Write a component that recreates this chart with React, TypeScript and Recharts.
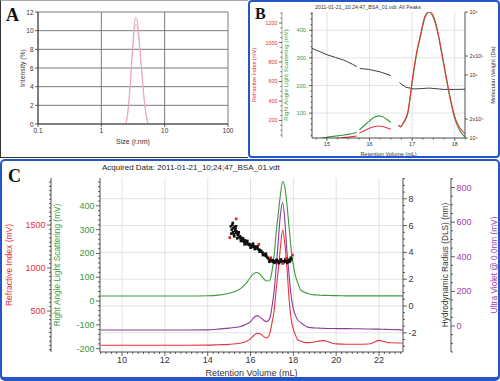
import React from "react";
import { ComposedChart, Line, Scatter, XAxis, YAxis, CartesianGrid } from "recharts";

const FONT = '"Liberation Sans", Arial, Helvetica, sans-serif';
const SERIF = '"Liberation Serif", "Times New Roman", serif';
const BLUE = "#2456c8";
const RED = "#e8333a";
const GREEN = "#3c9a3c";
const PURPLE = "#8d3a9c";

// ---- A: DLS intensity size distribution
const dlsSize = [2.3, 2.5, 2.7, 2.9, 3.1, 3.3, 3.5, 3.7, 3.9, 4.2, 4.5, 4.8, 5.1, 5.5, 5.8];
const dlsRun1 = [0, 0.4, 2.2, 5.0, 8.0, 10.4, 11.4, 11.0, 9.6, 7.0, 4.5, 2.4, 1.0, 0.1, 0];
const dlsRun2 = [0, 0.3, 2.0, 4.6, 7.4, 9.7, 10.7, 10.3, 9.0, 6.6, 4.2, 2.2, 0.9, 0.1, 0];
const aSizeTicks = [0.1, 1, 10, 100];
const aIntensityTicks = [0, 2, 4, 6, 8, 10, 12];

// ---- B: all peaks, RI / RALS / molecular weight
const bVol = [14.7, 14.9, 15.1, 15.3, 15.5, 15.7, 15.73, 15.76, 15.9, 16.0, 16.1, 16.2, 16.3, 16.4, 16.5, 16.6, 16.68, 16.72, 16.8, 16.9, 17.0, 17.1, 17.2, 17.3, 17.4, 17.5, 17.6, 17.7, 17.8, 17.9, 18.0, 18.1, 18.2, 18.24];
const bRals = [5, 10, 15, 19, 23, 30, null, 40, 58, 72, 84, 90, 88, 78, 66, null, 57, 50, 65, 100, 210, 310, 380, 445, 465, 445, 390, 310, 225, 145, 80, 42, 20, 15];
const bRi = [0, 5, 12, 20, 30, 40, null, 70, 100, 120, 135, 143, 138, 125, 112, null, 154, 135, 185, 290, 604, 887, 1086, 1270, 1315, 1270, 1115, 887, 646, 420, 240, 135, 80, 68];
const mwVol = [14.65, 14.8, 15.0, 15.2, 15.4, 15.6, 15.7, 15.73, 15.77, 16.0, 16.25, 16.5, 16.6, 16.7, 16.85, 17.05, 17.4, 17.75, 18.0, 18.24];
const mwDa = [265000, 240000, 210000, 190000, 172000, 148000, 136000, null, 127000, 122000, 112000, 98000, null, 76000, 64000, 60000, 62000, 59000, 59000, 59500];
const bVolTicks = [15, 16, 17, 18];
const bRiTicks = [200, 400, 600, 800, 1000, 1200];
const bRalsTicks = [100, 200, 300, 400];
const bMwTicks = [10000, 20000, 100000, 200000, 1000000];
const bMwLabels = ["10⁴", "2x10⁴", "10⁵", "2x10⁵", "10⁶"];

// ---- C: triple detection + DLS
const cVol = [9.0, 10, 11, 12, 13, 14, 14.5, 15.0, 15.5, 15.8, 16.0, 16.15, 16.3, 16.45, 16.6, 16.75, 16.9, 17.0, 17.1, 17.2, 17.3, 17.4, 17.5, 17.6, 17.7, 17.8, 17.9, 18.0, 18.1, 18.2, 18.35, 18.5, 18.7, 19.0, 19.2, 19.4, 19.6, 19.8, 20.0, 20.5, 21.0, 21.5, 21.8, 22.0, 22.2, 22.5, 23.1];
const cRals = [21, 21, 21, 21, 21, 22, 25, 33, 50, 75, 100, 116, 120, 112, 95, 84, 88, 125, 190, 290, 370, 450, 502, 480, 405, 310, 215, 150, 105, 78, 46, 38, 31, 26, 25, 24, 24, 23, 23, 22, 22, 22, 22, 22, 22, 22, 22];
const cUv = [-23, -23, -23, -23, -23, -22, -18, -12, -4, 10, 25, 48, 60, 50, 35, 25, 45, 110, 200, 340, 500, 650, 715, 610, 430, 295, 170, 100, 60, 35, 20, 5, -8, -11, -12, -13, -14, -14, -15, -15, -16, -17, -18, -18, -19, -20, -22];
const cRi = [101, 101, 101, 101, 101, 103, 108, 112, 125, 145, 175, 215, 240, 235, 205, 185, 240, 360, 500, 760, 990, 1250, 1445, 1290, 1010, 640, 400, 290, 220, 165, 150, 135, 132, 140, 150, 155, 145, 128, 117, 114, 114, 116, 140, 158, 148, 130, 128];
const rhBlack: [number, number][] = [
  [15.08, 5.95], [15.1, 5.4], [15.12, 5.7], [15.15, 6.05], [15.17, 6.2], [15.18, 5.5], [15.2, 5.8], [15.22, 5.35],
  [15.24, 5.2], [15.25, 5.9], [15.28, 5.6], [15.3, 5.75], [15.32, 5.95], [15.33, 5.45], [15.36, 5.55], [15.38, 5.05],
  [15.4, 5.3], [15.43, 5.4], [15.45, 5.5], [15.46, 5.15], [15.5, 5.2], [15.53, 5.05], [15.55, 4.85], [15.56, 5.1],
  [15.6, 4.95], [15.63, 4.9], [15.65, 5.05], [15.66, 4.85], [15.7, 4.8], [15.72, 4.6], [15.74, 4.9], [15.78, 4.7],
  [15.82, 4.75], [15.85, 4.85], [15.86, 4.6], [15.9, 4.65], [15.94, 4.55], [15.98, 4.6], [16.0, 4.35], [16.02, 4.5],
  [16.06, 4.45], [16.1, 4.55], [16.12, 4.65], [16.14, 4.4], [16.18, 4.45], [16.2, 4.25], [16.22, 4.35], [16.26, 4.4],
  [16.3, 4.3], [16.33, 4.45], [16.35, 4.25], [16.4, 4.2], [16.42, 4.05], [16.45, 4.15], [16.5, 4.1], [16.55, 4.0],
  [16.58, 3.8], [16.6, 3.9], [16.65, 3.85], [16.7, 3.75], [16.72, 3.9], [16.75, 3.7], [16.8, 3.6], [16.85, 3.5],
  [16.88, 3.3], [16.9, 3.45], [16.95, 3.4], [17.0, 3.35], [17.02, 3.42], [17.05, 3.3], [17.1, 3.35], [17.12, 3.22],
  [17.15, 3.3], [17.2, 3.38], [17.22, 3.45], [17.25, 3.3], [17.3, 3.35], [17.32, 3.2], [17.35, 3.28], [17.4, 3.36],
  [17.42, 3.48], [17.45, 3.3], [17.5, 3.34], [17.52, 3.22], [17.55, 3.28], [17.6, 3.35], [17.62, 3.47], [17.65, 3.3],
  [17.7, 3.4], [17.72, 3.22], [17.75, 3.32], [17.8, 3.45], [17.82, 3.3], [17.85, 3.38], [17.88, 3.6], [17.9, 3.5],
];
const rhRed: [number, number][] = [
  [15.03, 5.1], [15.33, 6.5], [16.39, 4.6], [16.94, 3.6], [17.5, 3.18], [17.66, 3.55], [17.96, 3.8],
];
const cVolMajor = [10, 12, 14, 16, 18, 20, 22];
const cRiMajor = [500, 1000, 1500];
const cRalsMajor = [-200, -100, 0, 100, 200, 300, 400];
const cRhMajor = [-2, 0, 2, 4, 6, 8];
const cUvMajor = [0, 200, 400, 600, 800];

const bVolDomain: [number, number] = [14.65, 18.24];
const bRalsDomain: [number, number] = [10, 466];
const cVolDomain: [number, number] = [8.97, 23.12];
const cRhDomain: [number, number] = [-3.43, 9.55];

// panel A plot box (chart size minus margins and axis bands)
const A_W = 248, A_H = 157, A_LEFT = 38, A_RIGHT = 20, A_TOP = 12, A_BOTTOM = 33;
const A_PLOT_W = A_W - A_LEFT - A_RIGHT;
const A_PLOT_H = A_H - A_TOP - A_BOTTOM;

const steps = (from: number, to: number, step: number) => {
  const out: number[] = [];
  for (let v = from; v <= to + 1e-9; v += step) out.push(Math.round(v * 1000) / 1000);
  return out;
};

// grid line pixel positions from the plot offset (linear axes)
const gridX = (vals: number[], dom: [number, number]) => ({ offset }: any) =>
  vals.map((v) => offset.left + ((v - dom[0]) / (dom[1] - dom[0])) * offset.width);
const gridY = (vals: number[], dom: [number, number]) => ({ offset }: any) =>
  vals.map((v) => offset.top + ((dom[1] - v) / (dom[1] - dom[0])) * offset.height);

// panel A is plotted in log10(size) so the size axis is a plain linear decade axis
const aLogTicks = aSizeTicks.map((t) => Math.log10(t));
const aData = dlsSize.map((s, i) => ({ v: Math.log10(s), run1: dlsRun1[i], run2: dlsRun2[i] }));
const bData = bVol.map((v, i) => ({ v, rals: bRals[i], ri: bRi[i] }));
const mwData = mwVol.map((v, i) => ({ v, mw: mwDa[i] }));
const cData = cVol.map((v, i) => ({ v, rals: cRals[i], uv: cUv[i], ri: cRi[i] }));
const rhBlackData = rhBlack.map(([v, r]) => ({ v, r }));
const rhRedData = rhRed.map(([v, r]) => ({ v, r }));

type Side = "left" | "right" | "bottom";

function makeTick(side: Side, majors: number[], color: string, size: number, fmt: (v: number) => string = (v) => String(v), big = 4) {
  return function TickMark(p: any) {
    const v = Number(p.payload?.value);
    const major = majors.some((m) => Math.abs(m - v) < 1e-6);
    const len = major ? big : big / 2;
    const { x, y } = p;
    if (side === "bottom") {
      return (
        <g>
          <line x1={x} x2={x} y1={y} y2={y + len} stroke="#222" strokeWidth={0.7} />
          {major ? (
            <text x={x} y={y + len + 1} textAnchor="middle" dominantBaseline="hanging" fontSize={size} fill={color} fontFamily={FONT}>
              {fmt(v)}
            </text>
          ) : null}
        </g>
      );
    }
    const dir = side === "left" ? -1 : 1;
    return (
      <g>
        <line x1={x} x2={x + dir * len} y1={y} y2={y} stroke="#222" strokeWidth={0.7} />
        {major ? (
          <text x={x + dir * (len + 1.5)} y={y} textAnchor={side === "left" ? "end" : "start"} dominantBaseline="central" fontSize={size} fill={color} fontFamily={FONT}>
            {fmt(v)}
          </text>
        ) : null}
      </g>
    );
  };
}

function AxisTitle(props: any) {
  const { viewBox, value, color = "#222", size = 9, dx = 0, dy = 0, vertical = true } = props;
  if (!viewBox) return null;
  if (vertical) {
    const x = viewBox.x + dx;
    const y = viewBox.y + viewBox.height / 2;
    return (
      <text x={x} y={y} transform={`rotate(-90 ${x} ${y})`} textAnchor="middle" dominantBaseline="central" fontSize={size} fill={color} fontFamily={FONT}>
        {value}
      </text>
    );
  }
  const x = viewBox.x + viewBox.width / 2;
  const y = viewBox.y + dy;
  return (
    <text x={x} y={y} textAnchor="middle" dominantBaseline="central" fontSize={size} fill={color} fontFamily={FONT}>
      {value}
    </text>
  );
}

const Square = (p: any) => <rect x={p.cx - 1.3} y={p.cy - 1.3} width={2.6} height={2.6} fill={p.fill} />;

const axisLine = { stroke: "#222", strokeWidth: 0.8 };

// backdrop grid for panel A, laid out from the same domain as its axes
function GridA() {
  const xs = aLogTicks.map((t) => A_LEFT + ((t + 1) / 3) * A_PLOT_W);
  const ys = aIntensityTicks.map((t) => A_TOP + ((12 - t) / 12) * A_PLOT_H);
  return (
    <svg width={A_W} height={A_H} style={{ position: "absolute", left: 0, top: 0 }}>
      {xs.map((x, i) => (
        <line key={"x" + i} x1={x} x2={x} y1={A_TOP} y2={A_TOP + A_PLOT_H} stroke="#7a7a7a" strokeWidth={1} />
      ))}
      {ys.map((y, i) => (
        <line key={"y" + i} x1={A_LEFT} x2={A_LEFT + A_PLOT_W} y1={y} y2={y} stroke="#7a7a7a" strokeWidth={1} />
      ))}
    </svg>
  );
}

function PanelA() {
  return (
    <ComposedChart width={A_W} height={A_H} margin={{ top: A_TOP, right: A_RIGHT, bottom: 0, left: 0 }}>
      <XAxis xAxisId="size" dataKey="v" type="number" domain={[-1, 2]} allowDataOverflow ticks={aLogTicks} interval={0}
        height={A_BOTTOM} axisLine={axisLine} tickLine={false} tickSize={0} tickMargin={0}
        tick={makeTick("bottom", aLogTicks, "#333", 6.5, (v) => String(aSizeTicks[aLogTicks.indexOf(v)] ?? ""), 3)}
        label={<AxisTitle value="Size (r.nm)" size={7} vertical={false} dy={17} color="#333" />} />
      <YAxis yAxisId="int" orientation="left" domain={[0, 12]} allowDataOverflow ticks={aIntensityTicks} interval={0} width={A_LEFT}
        axisLine={axisLine} tickLine={false} tickSize={0} tickMargin={0}
        tick={makeTick("left", aIntensityTicks, "#333", 6.5, (v) => String(v), 3)}
        label={<AxisTitle value="Intensity (%)" size={6.8} dx={22} color="#333" />} />
      <Line data={aData} xAxisId="size" yAxisId="int" dataKey="run2" type="monotone" stroke="#e8c9d2" strokeWidth={1} dot={false} isAnimationActive={false} />
      <Line data={aData} xAxisId="size" yAxisId="int" dataKey="run1" type="monotone" stroke="#f09fb3" strokeWidth={1} dot={false} isAnimationActive={false} />
    </ComposedChart>
  );
}

function PanelB() {
  return (
    <ComposedChart width={251} height={157} margin={{ top: 12, right: 0, bottom: 0, left: 0 }}>
      <CartesianGrid yAxisId="rals" stroke="#dcdcdc" strokeWidth={0.8}
        verticalCoordinatesGenerator={gridX(bVolTicks, bVolDomain)}
        horizontalCoordinatesGenerator={gridY(bRalsTicks, bRalsDomain)} />
      <XAxis dataKey="v" type="number" domain={bVolDomain} allowDataOverflow ticks={steps(14.75, 18.25, 0.25)} interval={0}
        height={19} axisLine={axisLine} tickLine={false} tickSize={0} tickMargin={0}
        tick={makeTick("bottom", bVolTicks, "#333", 5.5, (v) => String(v), 3)}
        label={<AxisTitle value="Retention Volume (mL)" size={5.5} vertical={false} dy={15.5} color="#333" />} />
      <YAxis yAxisId="rals" orientation="left" domain={bRalsDomain} allowDataOverflow ticks={steps(20, 460, 20)} interval={0} width={30}
        axisLine={axisLine} tickLine={false} tickSize={0} tickMargin={0}
        tick={makeTick("left", bRalsTicks, GREEN, 5.6, (v) => String(v) + ".", 3)}
        label={<AxisTitle value="Right Angle Light Scattering (mV)" size={6.2} dx={3.5} color={GREEN} />} />
      <YAxis yAxisId="ri" orientation="left" domain={[20, 1313]} allowDataOverflow ticks={steps(50, 1300, 50)} interval={0} width={33}
        axisLine={{ stroke: "#777", strokeWidth: 0.6 }} tickLine={false} tickSize={0} tickMargin={0}
        tick={makeTick("left", bRiTicks, RED, 5.4, (v) => String(v), 3)}
        label={<AxisTitle value="Refractive Index (mV)" size={5.6} dx={5} color={RED} />} />
      <YAxis yAxisId="mw" orientation="right" scale="log" domain={[10000, 1000000]} allowDataOverflow ticks={bMwTicks} interval={0} width={35}
        axisLine={axisLine} tickLine={false} tickSize={0} tickMargin={0}
        tick={makeTick("right", bMwTicks, "#333", 5.4, (v) => bMwLabels[bMwTicks.indexOf(v)] ?? "", 3)}
        label={<AxisTitle value="Molecular Weight (Da)" size={5.8} dx={28} color="#333" />} />
      <Line data={mwData} yAxisId="mw" dataKey="mw" type="linear" stroke="#2a2a2a" strokeWidth={0.9} dot={false} isAnimationActive={false} />
      <Line data={bData} yAxisId="rals" dataKey="rals" type="monotone" stroke={GREEN} strokeWidth={1.1} dot={false} isAnimationActive={false} />
      <Line data={bData} yAxisId="ri" dataKey="ri" type="monotone" stroke={RED} strokeWidth={1.1} dot={false} isAnimationActive={false} />
    </ComposedChart>
  );
}

function PanelC() {
  return (
    <ComposedChart width={500} height={222} margin={{ top: 19, right: 0, bottom: 0, left: 0 }}>
      <CartesianGrid yAxisId="rh" stroke="#dcdcdc" strokeWidth={0.8}
        verticalCoordinatesGenerator={gridX(cVolMajor, cVolDomain)}
        horizontalCoordinatesGenerator={gridY(cRhMajor, cRhDomain)} />
      <XAxis dataKey="v" type="number" domain={cVolDomain} allowDataOverflow ticks={steps(9, 23, 0.25)} interval={0}
        height={29} axisLine={axisLine} tickLine={false} tickSize={0} tickMargin={0}
        tick={makeTick("bottom", cVolMajor, "#333", 9, (v) => String(v), 4)}
        label={<AxisTitle value="Retention Volume (mL)" size={9} vertical={false} dy={21} color="#333" />} />
      <YAxis yAxisId="rals" orientation="left" domain={[-214, 517]} allowDataOverflow ticks={steps(-200, 500, 20)} interval={0} width={49}
        axisLine={axisLine} tickLine={false} tickSize={0} tickMargin={0}
        tick={makeTick("left", cRalsMajor, GREEN, 9, (v) => String(v), 4)}
        label={<AxisTitle value="Right Angle Light Scattering (mV)" size={8.3} dx={6} color={GREEN} />} />
      <YAxis yAxisId="ri" orientation="left" domain={[23, 2047]} allowDataOverflow ticks={steps(50, 2000, 50)} interval={0} width={51}
        axisLine={axisLine} tickLine={false} tickSize={0} tickMargin={0}
        tick={makeTick("left", cRiMajor, RED, 9, (v) => String(v), 4)}
        label={<AxisTitle value="Refractive Index (mV)" size={8.5} dx={9} color={RED} />} />
      <YAxis yAxisId="rh" orientation="right" domain={cRhDomain} allowDataOverflow ticks={steps(-3, 9.5, 0.5)} interval={0} width={48}
        axisLine={axisLine} tickLine={false} tickSize={0} tickMargin={0}
        tick={makeTick("right", cRhMajor, "#333", 9, (v) => String(v), 4)}
        label={<AxisTitle value="Hydrodynamic Radius (DLS) (nm)" size={8.3} dx={42} color="#333" />} />
      <YAxis yAxisId="uv" orientation="right" domain={[-150, 855]} allowDataOverflow ticks={steps(-150, 850, 50)} interval={0} width={49}
        axisLine={axisLine} tickLine={false} tickSize={0} tickMargin={0}
        tick={makeTick("right", cUvMajor, "#a040b0", 9, (v) => String(v), 4)}
        label={<AxisTitle value="Ultra Violet @ 0.0nm (mV)" size={8.3} dx={43} color="#a040b0" />} />
      <Line data={cData} yAxisId="rals" dataKey="rals" type="monotone" stroke={GREEN} strokeWidth={1.1} dot={false} isAnimationActive={false} />
      <Line data={cData} yAxisId="uv" dataKey="uv" type="monotone" stroke={PURPLE} strokeWidth={1.1} dot={false} isAnimationActive={false} />
      <Line data={cData} yAxisId="ri" dataKey="ri" type="monotone" stroke={RED} strokeWidth={1.1} dot={false} isAnimationActive={false} />
      <Scatter data={rhBlackData} yAxisId="rh" dataKey="r" fill="#111" shape={Square} isAnimationActive={false} />
      <Scatter data={rhRedData} yAxisId="rh" dataKey="r" fill="#e02020" shape={Square} isAnimationActive={false} />
    </ComposedChart>
  );
}

export default function App() {
  return (
    <div style={{ position: "absolute", left: 0, top: 0, width: 500, height: 381, background: "#fff", fontFamily: FONT, overflow: "hidden" }}>
      <GridA />
      <div style={{ position: "absolute", left: 0, top: 0 }}><PanelA /></div>
      <div style={{ position: "absolute", left: 249, top: 0 }}><PanelB /></div>
      <div style={{ position: "absolute", left: 0, top: 159 }}><PanelC /></div>

      <div style={{ position: "absolute", left: 0, top: 0, width: 248, height: 158, boxSizing: "border-box", borderLeft: "1.5px solid #333", borderBottom: "1.5px solid #333", borderTop: "1px solid #aaa" }} />
      <div style={{ position: "absolute", left: 248, top: 0, width: 252, height: 158, boxSizing: "border-box", border: `2px solid ${BLUE}`, borderRadius: 4 }} />
      <div style={{ position: "absolute", left: 0, top: 159, width: 500, height: 222, boxSizing: "border-box", border: `2px solid ${BLUE}`, borderBottomWidth: 4, borderRadius: 5 }} />

      <svg width={500} height={381} style={{ position: "absolute", left: 0, top: 0, pointerEvents: "none" }}>
        <text x={6} y={21} fontFamily={SERIF} fontWeight="bold" fontSize={18} fill="#111">A</text>
        <text x={255} y={19} fontFamily={SERIF} fontWeight="bold" fontSize={16} fill="#111">B</text>
        <text x={8} y={182} fontFamily={SERIF} fontWeight="bold" fontSize={18} fill="#111">C</text>
        <text x={315} y={6.5} fontFamily={FONT} fontSize={5.3} fill="#333" dominantBaseline="central">2011-01-21_10;24;47_BSA_01.vdt: All Peaks</text>
        <text x={102} y={167.5} fontFamily={FONT} fontSize={8} fill="#222" dominantBaseline="central">Acquired Data: 2011-01-21_10;24;47_BSA_01.vdt</text>
      </svg>
    </div>
  );
}
